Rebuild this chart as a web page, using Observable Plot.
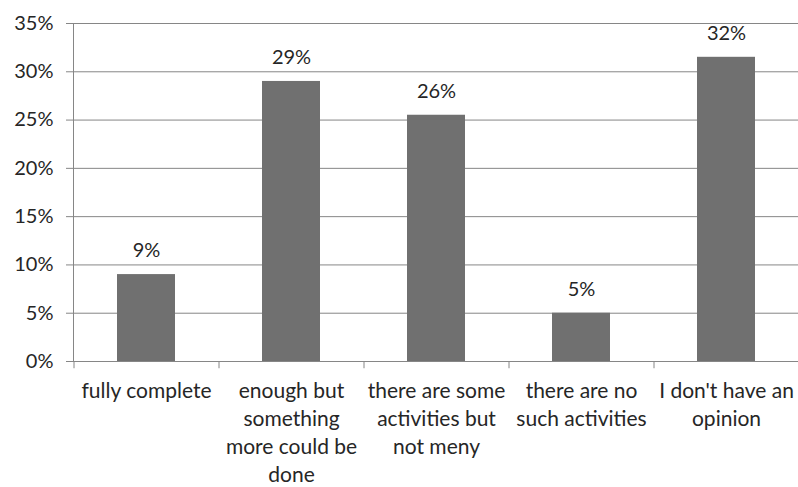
<!DOCTYPE html>
<html>
<head>
<meta charset="utf-8">
<script src="https://cdn.jsdelivr.net/npm/d3@7"></script>
<script src="https://cdn.jsdelivr.net/npm/@observablehq/plot@0.6"></script>
<style>
  html, body { margin: 0; padding: 0; background: #fff; }
  #chart svg { display: block; }
</style>
</head>
<body>
<div id="chart"></div>
<script>
const categories = [
  "fully complete",
  "enough but something more could be done",
  "there are some activities but not meny",
  "there are no such activities",
  "I don't have an opinion"
];
const tickLabels = [
  "fully complete",
  "enough but\nsomething\nmore could be\ndone",
  "there are some\nactivities but\nnot meny",
  "there are no\nsuch activities",
  "I don't have an\nopinion"
];
const values = [9, 29, 25.5, 5, 31.5];
const valueLabels = ["9%", "29%", "26%", "5%", "32%"];
const yTicks = [0, 5, 10, 15, 20, 25, 30, 35];

const data = categories.map((c, i) => ({category: c, value: values[i], label: valueLabels[i]}));

const W = 798, H = 487, mL = 73, mR = 0, mT = 23, mB = 126;
const step = (W - mL - mR) / categories.length;
const gridColor = "#868686";
const textColor = "#262626";

const chart = Plot.plot({
  width: W,
  height: H,
  marginLeft: mL,
  marginRight: mR,
  marginTop: mT,
  marginBottom: mB,
  style: {fontFamily: "Lato, sans-serif", fontSize: "20px", color: textColor, background: "#fff"},
  x: {domain: categories, paddingInner: 0.6, paddingOuter: 0.3, label: null},
  y: {domain: [0, 35], label: null},
  marks: [
    Plot.ruleY(yTicks, {stroke: gridColor, strokeWidth: 1}),
    Plot.frame({anchor: "left", stroke: gridColor}),
    Plot.ruleX(categories, {x: d => d, dx: -step / 2, y1: 0, y2: -0.75, stroke: gridColor}),
    Plot.barY(data, {x: "category", y: "value", fill: "#707070"}),
    Plot.text(data, {x: "category", y: "value", text: "label", dy: -24, fill: textColor, fontSize: 20}),
    Plot.axisY({ticks: yTicks, tickFormat: d => d + "%", tickSize: 7, tickPadding: 13, stroke: gridColor, fill: textColor, fontSize: 20}),
    Plot.axisX({tickSize: 0, tickPadding: 17, tickFormat: (d, i) => tickLabels[categories.indexOf(d)], fill: textColor, fontSize: 21, lineHeight: 1.33})
  ]
});
document.getElementById("chart").appendChild(chart);
</script>
</body>
</html>
